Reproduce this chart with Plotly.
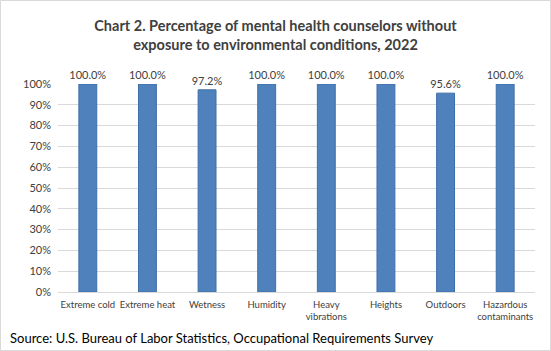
import plotly.graph_objects as go

categories = ["Extreme cold", "Extreme heat", "Wetness", "Humidity",
              "Heavy<br>vibrations", "Heights", "Outdoors", "Hazardous<br>contaminants"]
values = [100.0, 100.0, 97.2, 100.0, 100.0, 100.0, 95.6, 100.0]
y_ticks = list(range(0, 101, 10))
y_tick_labels = [f"{v}%" for v in y_ticks]

W, H = 551, 351
L, R, T, B = 58, 16, 84, 59
pw, ph = W - L - R, H - T - B
FONT = "Lato, sans-serif"

fig = go.Figure(go.Bar(
    x=categories, y=values,
    marker=dict(color="#4F81BD", line=dict(color="#3F6FA8", width=1)),
    width=0.3,
    text=values, texttemplate="%{y:.1f}%", textposition="outside",
    constraintext="none",
    textfont=dict(family=FONT, size=11, color="#404040"),
    cliponaxis=False,
))

fig.update_layout(
    width=W, height=H,
    margin=dict(l=L, r=R, t=T, b=B),
    paper_bgcolor="white", plot_bgcolor="white",
    showlegend=False,
    title=dict(
        text="<b>Chart 2. Percentage of mental health counselors without<br>exposure to environmental conditions, 2022</b>",
        x=0.5, xanchor="center", xref="container",
        y=1 - 31 / H, yanchor="middle", yref="container",
        font=dict(family=FONT, size=14.5, color="#404040"),
    ),
    xaxis=dict(
        showgrid=False, showline=False, ticks="", tickangle=0,
        ticklabelstandoff=5,
        tickfont=dict(family=FONT, size=9.5, color="#404040"),
    ),
    yaxis=dict(
        range=[0, 100], tickvals=y_ticks, ticktext=y_tick_labels,
        showgrid=True, gridcolor="#D9D9D9", gridwidth=1,
        zeroline=True, zerolinecolor="#D9D9D9", zerolinewidth=1,
        showline=False, ticks="", ticklabelstandoff=6,
        tickfont=dict(family=FONT, size=11, color="#404040"),
    ),
    annotations=[dict(
        text="Source: U.S. Bureau of Labor Statistics, Occupational Requirements Survey",
        xref="paper", yref="paper",
        x=(8 - L) / pw, y=(H - B - 338) / ph,
        xanchor="left", yanchor="middle", showarrow=False,
        font=dict(family=FONT, size=13, color="black"),
    )],
    shapes=[dict(
        type="rect", xref="paper", yref="paper",
        x0=(0.5 - L) / pw, x1=(W - 0.5 - L) / pw,
        y0=-(B - 0.5) / ph, y1=1 + (T - 0.5) / ph,
        line=dict(color="#D9D9D9", width=1), layer="below",
    )],
)

fig.write_html("out.html")
